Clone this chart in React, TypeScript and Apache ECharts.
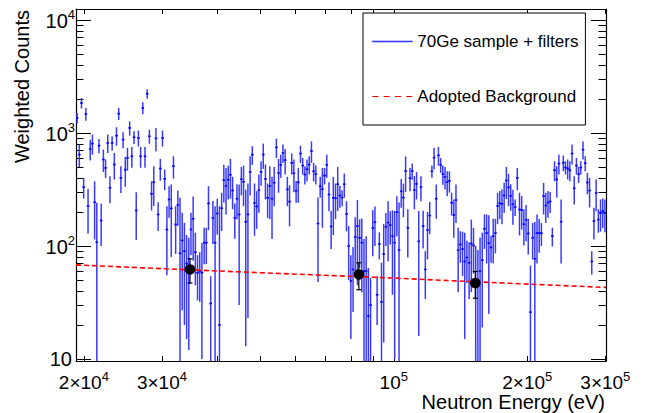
import React, { useEffect, useRef } from "react";
import * as echarts from "echarts";

const FONT = "Liberation Sans, Arial, Helvetica, sans-serif";

const X_MIN = 19200;
const X_MAX = 301000;
const Y_MIN = 9.6;
const Y_MAX = 12500;
const N_BINS = 242;

const SERIES_SAMPLE = "70Ge sample + filters";
const SERIES_BACKGROUND = "Adopted Background";

// weighted counts per log-spaced energy bin
const SAMPLE_COUNTS = [
  1355, 644, 1841, 332, 1472, 225, 722, 805, 244, 108, 773, 168, 582, 491, 816, 327, 816, 526, 946, 1483,
  401, 873, 474, 601, 1107, 622, 916, 206, 904, 622, 1664, 622, 2223, 935, 290, 367, 897, 190, 484, 904,
  393, 140, 258, 215, 508, 155, 230, 86, 112,
  90, 70,
  65, 140, 174, 88, 58, 60, 58, 107, 107, 238, 31, 177, 107, 194, 20, 216, 382, 340, 386, 426,
  310, 177, 262, 190, 390, 370, 164, 190, 451, 642, 240, 224, 313, 452, 643, 392, 267, 340, 262, 363,
  746, 443, 522, 666, 576, 317, 247, 544, 440,
  308, 366, 658, 515, 429, 478, 525, 693, 458, 433, 158, 338, 318, 420, 522, 285, 149, 267, 265, 352,
  280, 268, 352, 192, 100, 49, 62, 120, 150, 118, 107, 60, 60, 24, 30, 144, 162, 37, 104, 32,
  85, 148, 161, 153, 122, 107, 199, 92, 305, 268,
  460, 145, 398, 461, 313, 354, 110, 332, 150, 62, 138, 186, 458, 606, 262, 633, 522, 432, 408, 367,
  377, 241, 188, 255, 92, 103, 94, 73, 79, 71, 105, 101, 50, 45, 60, 75, 142, 130, 106, 97,
  122, 130, 226, 239, 236, 280,
  380, 330, 278, 234,
  221, 401, 210, 208, 156, 170, 129, 26, 118, 77, 130, 130, 130, 276, 228, 242, 248, 122, 468, 388,
  536, 164, 545, 495, 485, 468, 658, 324, 515, 432, 495, 712, 540, 365, 310, 73, 166, 295, 171, 196,
  204, 195,
];

const SAMPLE_ERRORS = [
  145, 145, 196, 69, 192, 96, 151, 162, 130, 133, 112, 68, 131, 91, 151, 88, 119, 139, 176, 181,
  107, 141, 140, 137, 161, 130, 119, 93, 146, 130, 202, 130, 220, 134, 84, 141, 210, 54, 106, 146,
  81, 85, 80, 135, 114, 70, 80, 181, 85,
  70, 55,
  53, 57, 100, 43, 25, 28, 48, 38, 38, 100, 23, 73, 118, 68, 205, 80, 140, 150, 128, 164,
  99, 61, 90, 160, 110, 145, 151, 167, 171, 120, 117, 82, 116, 110, 162, 134, 90, 168, 147, 138,
  145, 147, 121, 123, 147, 92, 98, 115, 141,
  67, 125, 115, 86, 79, 104, 97, 150, 85, 83, 110, 71, 173, 70, 121, 82, 55, 142, 92, 148,
  62, 43, 85, 57, 50, 34, 36, 60, 105, 54, 68, 55, 62, 40, 22, 63, 62, 17, 28, 39,
  71, 48, 88, 50, 85, 97, 77, 150, 87, 88,
  160, 66, 93, 75, 102, 96, 94, 83, 55, 28, 62, 59, 57, 132, 88, 118, 78, 83, 92, 91,
  81, 55, 70, 95, 53, 32, 40, 58, 32, 37, 66, 44, 50, 47, 59, 56, 48, 60, 81, 26,
  52, 44, 70, 67, 80, 83,
  120, 105, 73, 80,
  37, 90, 86, 68, 55, 60, 45, 41, 42, 86, 60, 43, 30, 86, 68, 64, 52, 23, 94, 120,
  107, 94, 86, 66, 97, 94, 131, 91, 86, 70, 66, 130, 81, 79, 91, 17, 52, 92, 40, 62,
  60, 63,
];

// adopted background curve
const BG_ENERGY = [19200, 30000, 50000, 100000, 200000, 301000];
const BG_COUNTS = [68, 63, 58, 52, 46, 43];

// black background-point measurements
const BG_POINT_ENERGY = [34700, 83400, 152700];
const BG_POINT_COUNTS = [62, 56, 47];
const BG_POINT_ERRORS = [15, 15, 12.5];

// axis ticks / labels
const X_LABEL_VALUES = [20000, 30000, 100000, 200000, 300000];
const X_MINOR_TICKS = [20000, 30000, 40000, 50000, 60000, 70000, 80000, 90000, 200000, 300000];
const X_MAJOR_TICKS = [100000];
const Y_LABEL_VALUES = [10, 100, 1000, 10000];
const Y_MAJOR_TICKS = [10, 100, 1000, 10000];
const Y_MINOR_TICKS = [
  20, 30, 40, 50, 60, 70, 80, 90,
  200, 300, 400, 500, 600, 700, 800, 900,
  2000, 3000, 4000, 5000, 6000, 7000, 8000, 9000,
];

const BLUE = "#0000ff";
const BAR_BLUE = "#3a3aff";

function binCenter(i: number): number {
  const lo = Math.log10(X_MIN);
  const w = (Math.log10(X_MAX) - lo) / N_BINS;
  return Math.pow(10, lo + (i + 0.5) * w);
}

function splitPow(v: number) {
  const exp = Math.floor(Math.log10(v) + 1e-9);
  const mant = Math.round(v / Math.pow(10, exp));
  return { exp, mant };
}

function yLabel(v: number): string {
  const { exp, mant } = splitPow(v);
  if (exp === 1 && mant === 1) return "{p|10}";
  return "{b|10}{s|" + exp + "}";
}

function xLabel(v: number): string {
  const { exp, mant } = splitPow(v);
  if (mant === 1) return "{b|10}{s|" + exp + "}";
  return "{b|" + mant + "\u00d710}{s|" + exp + "}";
}

const RICH_X = {
  b: { fontSize: 19, fontFamily: FONT, color: "#000", padding: [3, 0, 0, 0] },
  s: { fontSize: 13, fontFamily: FONT, color: "#000", verticalAlign: "top" },
  p: { fontSize: 19, fontFamily: FONT, color: "#000" },
};
const RICH_Y = {
  b: { fontSize: 20, fontFamily: FONT, color: "#000", padding: [3, 0, 0, 0] },
  s: { fontSize: 13, fontFamily: FONT, color: "#000", verticalAlign: "top" },
  p: { fontSize: 20, fontFamily: FONT, color: "#000", padding: [0, 3, 0, 0] },
};

const LEGEND_LINE = "path://M0,0H40V1H0Z";
const LEGEND_DASH = "path://M0,0H6V1H0Z M11,0H17V1H11Z M22,0H28V1H22Z M33,0H39V1H33Z";

function hiddenParts() {
  return {
    splitLine: { show: false },
    minorTick: { show: false },
    minorSplitLine: { show: false },
  };
}

function makeXAxis(position: "bottom" | "top", major: boolean, withLine: boolean, withLabels: boolean) {
  const ax: any = {
    type: "log",
    logBase: 10,
    min: X_MIN,
    max: X_MAX,
    position,
    ...hiddenParts(),
    axisLine: { show: withLine, onZero: false, lineStyle: { color: "#000", width: 1.2 } },
    axisTick: {
      show: true,
      inside: true,
      length: major ? 9 : 5,
      customValues: major ? X_MAJOR_TICKS : X_MINOR_TICKS,
      lineStyle: { color: "#000", width: 1 },
    },
    axisLabel: withLabels
      ? {
          show: true,
          customValues: X_LABEL_VALUES,
          margin: 9,
          formatter: (v: number) => xLabel(v),
          rich: RICH_X,
        }
      : { show: false },
  };
  if (withLabels) {
    ax.name = "Neutron Energy (eV)";
    ax.nameLocation = "end";
    ax.nameGap = -1;
    ax.nameMoveOverlap = false;
    ax.nameTextStyle = {
      fontSize: 20,
      fontFamily: FONT,
      color: "#000",
      align: "right",
      verticalAlign: "top",
      padding: [31, 0, 0, 0],
    };
  }
  return ax;
}

function makeYAxis(position: "left" | "right", major: boolean, withLine: boolean, withLabels: boolean) {
  const ax: any = {
    type: "log",
    logBase: 10,
    min: Y_MIN,
    max: Y_MAX,
    position,
    ...hiddenParts(),
    axisLine: { show: withLine, onZero: false, lineStyle: { color: "#000", width: 1.2 } },
    axisTick: {
      show: true,
      inside: true,
      length: major ? 15 : 7.5,
      customValues: major ? Y_MAJOR_TICKS : Y_MINOR_TICKS,
      lineStyle: { color: "#000", width: 1 },
    },
    axisLabel: withLabels
      ? {
          show: true,
          customValues: Y_LABEL_VALUES,
          margin: 1,
          formatter: (v: number) => yLabel(v),
          rich: RICH_Y,
        }
      : { show: false },
  };
  if (withLabels) {
    ax.name = "Weighted Counts";
    ax.nameLocation = "end";
    ax.nameRotate = 90;
    ax.nameGap = -1;
    ax.nameMoveOverlap = false;
    ax.nameTextStyle = {
      fontSize: 20,
      fontFamily: FONT,
      color: "#000",
      align: "right",
      verticalAlign: "bottom",
      padding: [0, 0, 44, 0],
    };
  }
  return ax;
}

export default function App() {
  const ref = useRef<HTMLDivElement>(null);

  useEffect(() => {
    if (!ref.current) return;
    const chart = echarts.init(ref.current, undefined, { renderer: "svg" });

    const sampleData = SAMPLE_COUNTS.map((v, i) => [binCenter(i), v, SAMPLE_ERRORS[i]]);
    const bgLine = BG_ENERGY.map((x, i) => [x, BG_COUNTS[i]]);
    const bgPoints = BG_POINT_ENERGY.map((x, i) => [x, BG_POINT_COUNTS[i], BG_POINT_ERRORS[i]]);

    const option: any = {
      animation: false,
      backgroundColor: "#ffffff",
      textStyle: { fontFamily: FONT },
      grid: { left: 76, right: 40, top: 9, bottom: 52, containLabel: false },
      xAxis: [
        makeXAxis("bottom", false, true, true),
        makeXAxis("bottom", true, false, false),
        makeXAxis("top", false, true, false),
        makeXAxis("top", true, false, false),
      ],
      yAxis: [
        makeYAxis("left", false, true, true),
        makeYAxis("left", true, false, false),
        makeYAxis("right", false, true, false),
        makeYAxis("right", true, false, false),
      ],
      legend: {
        show: true,
        orient: "vertical",
        left: 363,
        top: 13,
        padding: [20, 7, 20, 9],
        itemGap: 38,
        itemWidth: 40,
        itemHeight: 2,
        backgroundColor: "#ffffff",
        borderColor: "#000",
        borderWidth: 1,
        borderRadius: 0,
        selectedMode: false,
        textStyle: { fontSize: 17, fontFamily: FONT, color: "#000" },
        data: [
          {
            name: SERIES_SAMPLE,
            icon: LEGEND_LINE,
            itemStyle: { color: BAR_BLUE, borderColor: BAR_BLUE, borderWidth: 0.6 },
          },
          {
            name: SERIES_BACKGROUND,
            icon: LEGEND_DASH,
            itemStyle: { color: "#ff0000", borderWidth: 0 },
          },
        ],
      },
      series: [
        {
          name: SERIES_SAMPLE,
          type: "custom",
          xAxisIndex: 0,
          yAxisIndex: 0,
          clip: true,
          z: 2,
          itemStyle: { color: BAR_BLUE },
          encode: { x: 0, y: 1 },
          data: sampleData,
          renderItem: (params: any, api: any) => {
            const x = api.value(0);
            const y = api.value(1);
            const e = api.value(2);
            const cs = params.coordSys;
            const c = api.coord([x, y]);
            const top = api.coord([x, Math.min(y + e, Y_MAX)])[1];
            const lo = y - e;
            const bottom = lo > Y_MIN ? api.coord([x, lo])[1] : cs.y + cs.height;
            return {
              type: "group",
              children: [
                {
                  type: "line",
                  shape: { x1: c[0], y1: top, x2: c[0], y2: bottom },
                  style: { stroke: BAR_BLUE, lineWidth: 1.5 },
                },
                {
                  type: "line",
                  shape: { x1: c[0] - 1.3, y1: c[1], x2: c[0] + 1.3, y2: c[1] },
                  style: { stroke: BLUE, lineWidth: 1.6 },
                },
              ],
            };
          },
        },
        {
          name: SERIES_BACKGROUND,
          type: "line",
          xAxisIndex: 0,
          yAxisIndex: 0,
          z: 3,
          symbol: "none",
          data: bgLine,
          itemStyle: { color: "#ff0000" },
          lineStyle: { color: "#ff0000", width: 1.6, type: [5, 3] },
        },
        {
          name: "Background points",
          type: "custom",
          xAxisIndex: 0,
          yAxisIndex: 0,
          z: 4,
          encode: { x: 0, y: 1 },
          data: bgPoints,
          renderItem: (params: any, api: any) => {
            const x = api.value(0);
            const y = api.value(1);
            const e = api.value(2);
            const c = api.coord([x, y]);
            const t = api.coord([x, y + e])[1];
            const b = api.coord([x, y - e])[1];
            const cap = 2.5;
            const st = { stroke: "#000", lineWidth: 1.2 };
            return {
              type: "group",
              children: [
                { type: "line", shape: { x1: c[0], y1: t, x2: c[0], y2: b }, style: st },
                { type: "line", shape: { x1: c[0] - cap, y1: t, x2: c[0] + cap, y2: t }, style: st },
                { type: "line", shape: { x1: c[0] - cap, y1: b, x2: c[0] + cap, y2: b }, style: st },
                { type: "circle", shape: { cx: c[0], cy: c[1], r: 5.3 }, style: { fill: "#000" } },
              ],
            };
          },
        },
      ],
    };

    chart.setOption(option);
    return () => {
      chart.dispose();
    };
  }, []);

  return (
    <div
      ref={ref}
      style={{ position: "absolute", left: 0, top: 0, width: 646, height: 413, background: "#fff" }}
    />
  );
}
